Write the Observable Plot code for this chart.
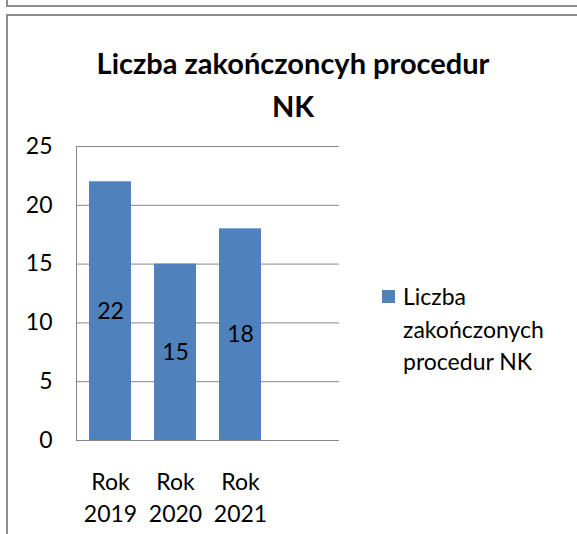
<!DOCTYPE html>
<html><head><meta charset="utf-8">
<script src="https://cdn.jsdelivr.net/npm/d3@7"></script>
<script src="https://cdn.jsdelivr.net/npm/@observablehq/plot@0.6"></script>
<style>
html,body{margin:0;padding:0;background:#fff;}
body{width:577px;height:534px;overflow:hidden;position:relative;font-family:Lato,sans-serif;}
.ln{position:absolute;background:#8c8c8c;z-index:5;}
#title{position:absolute;left:93px;width:400px;top:41px;text-align:center;font-weight:bold;font-size:29px;line-height:43px;color:#000;}
#legend{position:absolute;left:382px;top:280px;font-size:23px;line-height:32.5px;color:#000;}
#legend .sw{position:absolute;left:0;top:10px;width:13px;height:13px;background:#4F81BD;}
#legend .tx{position:absolute;left:21px;top:0;white-space:nowrap;}
#chart{position:absolute;left:0;top:0;}
</style></head>
<body>
<div id="chart"></div>
<div class="ln" style="left:6px;top:0;width:2px;height:6px"></div>
<div class="ln" style="left:6px;top:5px;width:571px;height:2px"></div>
<div class="ln" style="left:6px;top:14px;width:571px;height:2px"></div>
<div class="ln" style="left:6px;top:14px;width:2px;height:520px"></div>
<div id="title"></div>
<div id="legend"><div class="sw"></div><div class="tx"></div></div>
<script>
const titleText = "Liczba zakończoncyh procedur\nNK";
const seriesName = "Liczba\nzakończonych\nprocedur NK";
const categories = ["Rok 2019", "Rok 2020", "Rok 2021"];
const values = [22, 15, 18];
const yTicks = [0, 5, 10, 15, 20, 25];
const emptySlot = "";

const data = categories.map((c, i) => ({cat: c, value: values[i]}));

document.getElementById("title").innerHTML = titleText.split("\n").join("<br>");
document.querySelector("#legend .tx").innerHTML = seriesName.split("\n").join("<br>");

const chart = Plot.plot({
  width: 577,
  height: 534,
  marginLeft: 76,
  marginRight: 238,
  marginTop: 146,
  marginBottom: 94,
  style: {fontFamily: "Lato, sans-serif", background: "transparent", color: "#000"},
  x: {domain: categories.concat([emptySlot]), paddingInner: 0.36, paddingOuter: 0.18, axis: null, label: null},
  y: {domain: [0, 25], axis: null, label: null},
  marks: [
    Plot.gridY(yTicks, {stroke: "#868686", strokeOpacity: 1, strokeWidth: 1}),
    Plot.frame({anchor: "left", stroke: "#868686", strokeWidth: 1}),
    Plot.ruleY([0], {stroke: "#868686", strokeWidth: 1}),
    Plot.barY(data, {x: "cat", y: "value", fill: "#4F81BD"}),
    Plot.text(data, {x: "cat", y: d => d.value / 2, text: d => String(d.value), fontSize: 23, fill: "#000"}),
    Plot.axisY(yTicks, {tickSize: 0, tickPadding: 24, fontSize: 23, fill: "#000", label: null}),
    Plot.axisX(categories, {tickSize: 0, tickPadding: 27, fontSize: 23, lineHeight: 1.39, fill: "#000", label: null,
      tickFormat: d => d.replace(" ", "\n")})
  ]
});
document.getElementById("chart").appendChild(chart);
</script>
</body></html>
